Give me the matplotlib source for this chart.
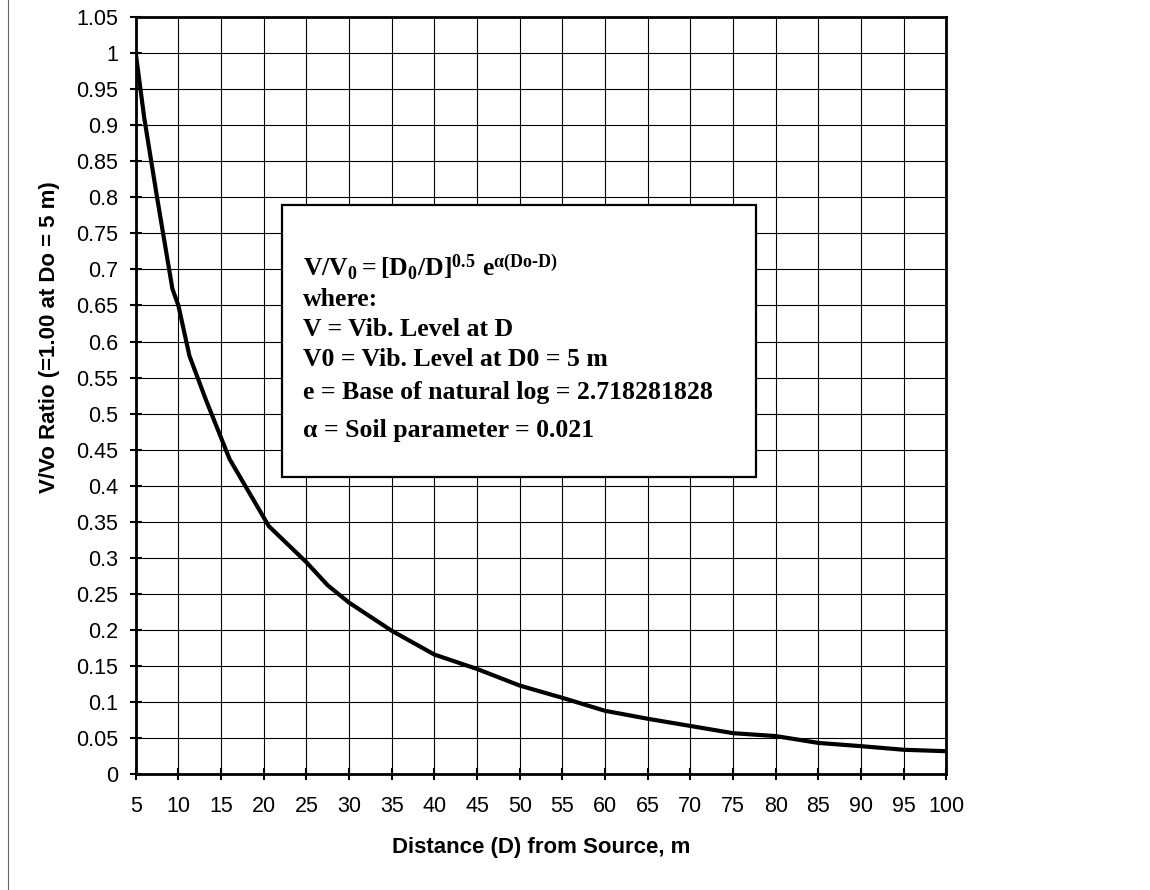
import matplotlib
matplotlib.use("Agg")
import matplotlib.pyplot as plt
import numpy as np
from matplotlib.patches import Rectangle
from matplotlib.lines import Line2D

# distance from source (m) and V/Vo ratio
dist = [5, 6, 7.5, 9.3, 10, 11.3, 13.2, 16, 20.6, 25, 27.5, 30, 35, 40,
        45, 50, 55, 60, 65, 70, 75, 80, 85, 90, 95, 100]
ratio = [1.0, 0.91, 0.80, 0.673, 0.65, 0.58, 0.52, 0.437, 0.344, 0.294,
         0.262, 0.238, 0.199, 0.166, 0.146, 0.123, 0.106, 0.088, 0.077,
         0.067, 0.057, 0.053, 0.0435, 0.039, 0.034, 0.032]

x_ticks = list(range(5, 101, 5))
y_ticks = [round(0.05 * i, 2) for i in range(22)]

box_lines = [
    "where:",
    "V = Vib. Level at D",
    "V0 = Vib. Level at D0 = 5 m",
    "e = Base of natural log = 2.718281828",
    "\u03b1 = Soil parameter = 0.021",
]

plt.rcParams['mathtext.fontset'] = 'custom'
plt.rcParams['mathtext.rm'] = 'Liberation Serif:bold'
plt.rcParams['mathtext.it'] = 'Liberation Serif:bold'
plt.rcParams['mathtext.bf'] = 'Liberation Serif:bold'

fig = plt.figure(figsize=(11.5, 8.9), dpi=100)
ax = fig.add_axes([0.118, 0.130, 0.705, 0.851])

ax.plot(dist, ratio, color='black', linewidth=3, solid_joinstyle='round', zorder=3)

ax.set_xlim(5, 100)
ax.set_ylim(0, 1.05)
ax.set_xticks(x_ticks)
ax.set_yticks(y_ticks)
ax.set_yticklabels(['{:g}'.format(v) for v in y_ticks])
ax.grid(True, color='black', linewidth=0.8)
ax.tick_params(direction='inout', length=9, width=1.5, labelsize=15.5)
ax.tick_params(axis='y', pad=8)
ax.tick_params(axis='x', pad=11)
for lab in ax.get_xticklabels() + ax.get_yticklabels():
    lab.set_family('Liberation Sans')
for s in ax.spines.values():
    s.set_linewidth(2)

ax.set_xlabel('Distance (D) from Source, m', fontsize=16, fontweight='bold',
              family='Liberation Sans')
ax.xaxis.set_label_coords(0.5, -0.083)
ax.set_ylabel('V/Vo Ratio (=1.00 at Do = 5 m)', fontsize=16,
              fontweight='bold', family='Liberation Sans')
ax.yaxis.set_label_coords(-0.093, 0.577)

ax.add_patch(Rectangle((0.181, 0.392), 0.5835, 0.3597, transform=ax.transAxes,
                       facecolor='white', edgecolor='black', linewidth=1.6,
                       zorder=4))

tx = 303 / 1150
fig.text(tx, 1 - 267 / 890,
         r'$\mathrm{V/V_0 = [D_0/D]^{0.5}\ e^{\alpha(Do\text{-}D)}}$',
         fontsize=18.5, va='center', zorder=5)
line_y = [300, 330, 360, 392, 430]
for txt, py in zip(box_lines, line_y):
    fig.text(tx, 1 - py / 890, txt, family='Liberation Serif',
             fontweight='bold', fontsize=18.5, va='center', zorder=5)

fig.add_artist(Line2D([8 / 1150, 8 / 1150], [0, 1], color='0.4',
                      linewidth=0.8))

fig.savefig('out.png', dpi=100)
